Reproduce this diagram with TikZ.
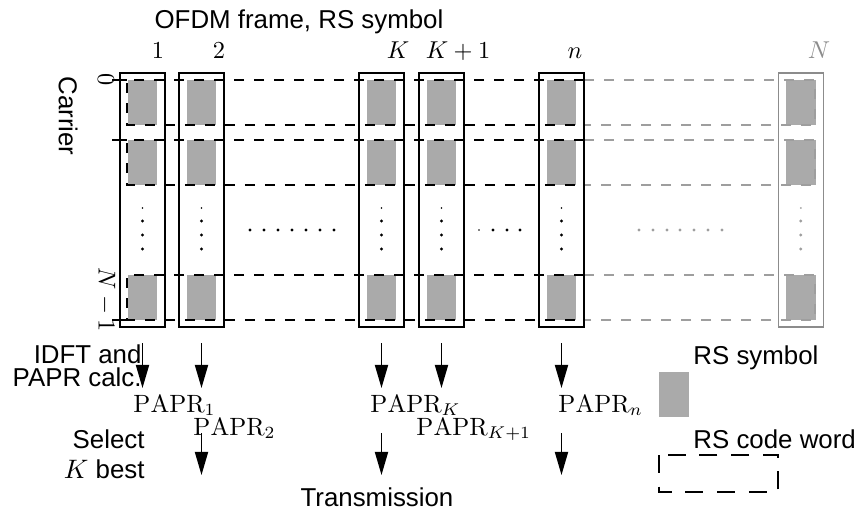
\documentclass[tikz,border=0pt]{standalone}
\usepackage{fontspec}
\usetikzlibrary{arrows.meta}
\newfontfamily\helv{Liberation Sans}
\definecolor{symgray}{gray}{0.667}
\definecolor{fadegray}{gray}{0.55}
\definecolor{lightline}{gray}{0.62}
\begin{document}
\begin{tikzpicture}[x=0.41pt,y=-0.41pt,
  colbox/.style={draw,line width=0.6pt,inner sep=0,minimum width=18.45pt,minimum height=104.14pt},
  txt/.style={font={\helv\fontsize{10.6pt}{12pt}\selectfont},inner sep=0},
  mtxt/.style={inner sep=0,font={\fontsize{10.25pt}{12pt}\selectfont}},
  cw/.style={line width=0.6pt,dash pattern=on 4.1pt off 4.1pt},
  arr/.style={line width=0.6pt,-{Triangle[length=9.5pt,width=5.4pt]}},
  dotm/.style={fill,circle,inner sep=0,minimum size=1.3pt},
  dots/.style={fill,circle,inner sep=0,minimum size=0.8pt}
]
\useasboundingbox (0,0) rectangle (859,512);

% RS symbols (grey squares) in every column
\foreach \cx in {142.5,201.5,381.5,441.5,561.5,800.8}{
  \foreach \top/\bot in {80/125,140/185,275/320}{
    \fill[symgray] (\cx-14.8,\top) rectangle (\cx+14.8,\bot);
  }
}

% RS code words: dashed rows across the frame
\foreach \top/\bot in {80/125,140/185,275/320}{
  \draw[cw] (584,\top) -- (127,\top) -- (127,\bot) -- (584,\bot);
  \draw[cw,lightline] (584,\top) -- (815,\top) -- (815,\bot) -- (584,\bot);
}
\draw[line width=0.6pt] (112,80) -- (127,80);
\draw[line width=0.6pt] (112,140) -- (127,140);
\draw[line width=0.6pt] (112,320) -- (127,320);

% OFDM frames
\node[colbox] (c1) at (142.5,200) {};
\node[colbox] (c2) at (201.5,200) {};
\node[colbox] (cK) at (381.5,200) {};
\node[colbox] (cK1) at (441.5,200) {};
\node[colbox] (cn) at (561.5,200) {};
\node[colbox,fadegray] (cN) at (800.8,200) {};

% vertical dots inside the frames
\foreach \cx/\cc in {142.5/black,201.5/black,381.5/black,441.5/black,561.5/black,800.8/lightline}{
  \node[dots,\cc] at (\cx,208) {};
  \node[dotm,\cc] at (\cx,221) {};
  \node[dotm,\cc] at (\cx,235) {};
  \node[dotm,\cc] at (\cx,249) {};
}
% horizontal dots between the frames
\foreach \x in {250,264,278,292,306,320,334}{ \node[dotm] at (\x,230) {}; }
\node[dots] at (479,230) {};
\foreach \x in {493,507,520}{ \node[dotm] at (\x,230) {}; }
\foreach \x in {639,653,667,680,694,708,722}{ \node[dotm,lightline] at (\x,230) {}; }

% headings
\node[txt,anchor=base] (title) at (299,28) {OFDM frame, RS symbol};
\node[mtxt,anchor=base] (l1) at (158,58) {$1$};
\node[mtxt,anchor=base] (l2) at (219,58) {$2$};
\node[mtxt,anchor=base] (lK) at (398,58) {$K$};
\node[mtxt,anchor=base] (lK1) at (458,58) {$K+1$};
\node[mtxt,anchor=base] (ln) at (575,58) {$n$};
\node[mtxt,anchor=base,fadegray] (lN) at (819,58) {$N$};

% carrier axis
\node[txt,rotate=-90] (carrier) at (68,116) {Carrier};
\node[mtxt,rotate=-90] (k0) at (106,80) {$0$};
\node[mtxt,rotate=-90] (kN) at (106,300) {$N-1$};

% processing arrows
\foreach \nm/\cx in {1/142.5,2/201.5,K/381.5,K1/441.5,n/561.5}{
  \coordinate (s\nm) at (\cx,343);
  \coordinate (e\nm) at (\cx,388);
  \draw[arr] (s\nm) -- (e\nm);
}
\foreach \nm/\cx in {2/201.5,K/381.5,n/561.5}{
  \coordinate (u\nm) at (\cx,433);
  \coordinate (v\nm) at (\cx,475);
  \draw[arr] (u\nm) -- (v\nm);
}

% PAPR values
\node[mtxt,anchor=base west] (p1) at (133,412) {$\mathrm{PAPR}_1$};
\node[mtxt,anchor=base west] (p2) at (193,435) {$\mathrm{PAPR}_2$};
\node[mtxt,anchor=base west] (pK) at (370,412) {$\mathrm{PAPR}_K$};
\node[mtxt,anchor=base west] (pK1) at (416,435) {$\mathrm{PAPR}_{K+1}$};
\node[mtxt,anchor=base west] (pn) at (558,412) {$\mathrm{PAPR}_n$};

% step captions
\node[txt,anchor=base east] (idft1) at (142,363) {IDFT and};
\node[txt,anchor=base east] (idft2) at (142,386) {PAPR calc.};
\node[txt,anchor=base east] (sel1) at (145,448) {Select};
\node[txt,anchor=base east] (sel2) at (145,478) {$K$ best};
\node[txt,anchor=base] (trans) at (377,506) {Transmission};

% legend
\node[txt,anchor=base west] (legsym) at (693,364) {RS symbol};
\fill[symgray] (659,372) rectangle (689,417);
\node[txt,anchor=base west] (legcw) at (693,448) {RS code word};
\draw[line width=0.6pt,dash pattern=on 7.4pt off 5.6pt] (659,455) rectangle (778,492);
\end{tikzpicture}
\end{document}
